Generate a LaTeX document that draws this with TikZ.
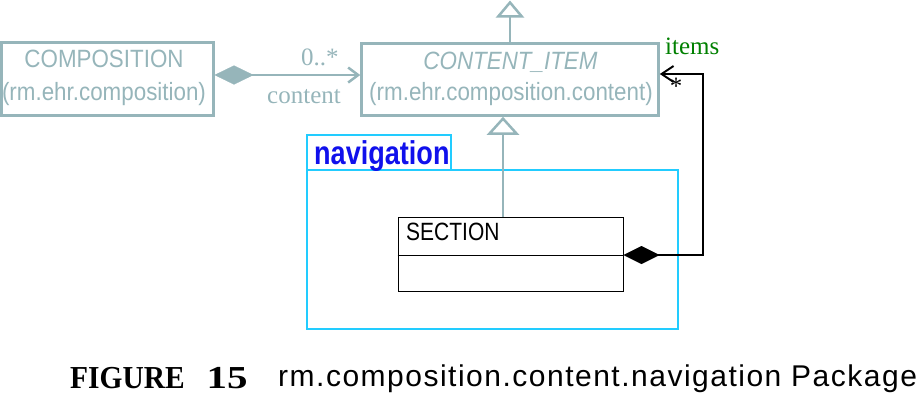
\documentclass[tikz,border=0pt]{standalone}
\usepackage{fontspec}
\setmainfont{Liberation Serif}
\newfontfamily\umlfont[FakeStretch=0.895]{Liberation Sans}
\newfontfamily\sectfont[FakeStretch=0.84]{Liberation Sans}
\newfontfamily\pkgfont[FakeStretch=0.82]{Liberation Sans}
\newfontfamily\capfont[LetterSpace=5]{Liberation Sans}
\newfontfamily\figfont[FakeStretch=0.92]{Liberation Serif}
\newfontfamily\numfont[FakeStretch=1.28]{Liberation Serif}
\usetikzlibrary{arrows.meta}
\definecolor{umlgray}{RGB}{150,181,186}
\definecolor{pkgcyan}{RGB}{34,204,255}
\definecolor{pkgblue}{RGB}{16,16,236}
\definecolor{rolegreen}{RGB}{0,128,0}
\tikzset{
  graybox/.style={draw=umlgray, line width=2.5pt, inner sep=0pt},
  blackbox/.style={draw=black, line width=1pt, inner sep=0pt},
  cyanbox/.style={draw=pkgcyan, line width=2.5pt, inner sep=0pt},
  umltext/.style={inner sep=0pt, font=\umlfont\fontsize{25}{28}\selectfont},
  graytext/.style={umltext, text=umlgray},
  serlabel/.style={inner sep=0pt, font=\fontsize{25}{30}\selectfont},
  grayline/.style={draw=umlgray, line width=2.5pt},
  blackline/.style={draw=black, line width=2pt},
}
\begin{document}
\begin{tikzpicture}[x=1pt,y=-1pt]
\useasboundingbox (0,0) rectangle (920,400);
% package
\node[cyanbox, minimum width=371pt, minimum height=159pt] (navpkg) at (492.5,249.5) {};
\node[cyanbox, minimum width=144pt, minimum height=35pt] (navtab) at (379,152.5) {};
\node[inner sep=0pt, anchor=base west, text=pkgblue, font=\pkgfont\bfseries\fontsize{33}{36}\selectfont] (navtxt) at (314,164) {navigation};
% classes
\node[graybox, minimum width=212pt, minimum height=73pt] (comp) at (107.25,79) {};
\node[graytext, anchor=base] (comp1) at (104,67) {COMPOSITION};
\node[graytext, anchor=base] (comp2) at (104,100) {(rm.ehr.composition)};
\node[graybox, minimum width=297pt, minimum height=72pt] (citem) at (510,79.5) {};
\node[graytext, anchor=base] (citem1) at (510.5,69) {\itshape CONTENT\_ITEM};
\node[graytext, anchor=base] (citem2) at (511,100) {(rm.ehr.composition.content)};
\node[blackbox, minimum width=225pt, minimum height=74pt] (sect) at (510.5,254) {};
\node[inner sep=0pt, anchor=base west, font=\sectfont\fontsize{25}{28}\selectfont] (sect1) at (406,240) {SECTION};
\draw[black, line width=1pt] (sect.west |- 0,255) -- (sect.east |- 0,255);
% composition -> content item
\draw[grayline, {Diamond[length=39pt,width=19pt,line width=0.1pt,fill=umlgray]}-{Straight Barb[length=10pt,width=15pt]}]
  (comp.east |- 0,75) -- (citem.west |- 0,75);
\node[serlabel, text=umlgray, anchor=base west] (mult1) at (301,65) {0..*};
\node[serlabel, text=umlgray, anchor=base] (role1) at (304,103) {content};
% generalizations
\coordinate (super) at (510,0.5);
\draw[grayline, -{Triangle[open, length=17pt, width=28pt]}] (citem.north) -- (super);
\draw[grayline, -{Triangle[open, length=18pt, width=32pt]}] ([xshift=-7.5pt]sect.north) -- ([xshift=-7.5pt]sect.north |- citem.south);
% section items
\draw[blackline, {Diamond[length=36pt,width=18pt,line width=0.1pt]}-{Straight Barb[length=12pt,width=16pt]}]
  (sect.east |- 0,255) -- (703,255) -- (703,74) -- (citem.east |- 0,74);
\node[serlabel, text=rolegreen, anchor=base west] (role2) at (665,54) {items};
\node[serlabel, anchor=base] (mult2) at (676,94) {*};
% caption
\node[inner sep=0pt, anchor=base west, font=\figfont\bfseries\fontsize{32}{34}\selectfont] (fig) at (70,388) {FIGURE\hspace{22pt}{\numfont\bfseries 15}};
\node[inner sep=0pt, anchor=base west, font=\capfont\fontsize{30}{34}\selectfont] (cap) at (278,386) {rm.composition.content.navigation Package};
\end{tikzpicture}
\end{document}
